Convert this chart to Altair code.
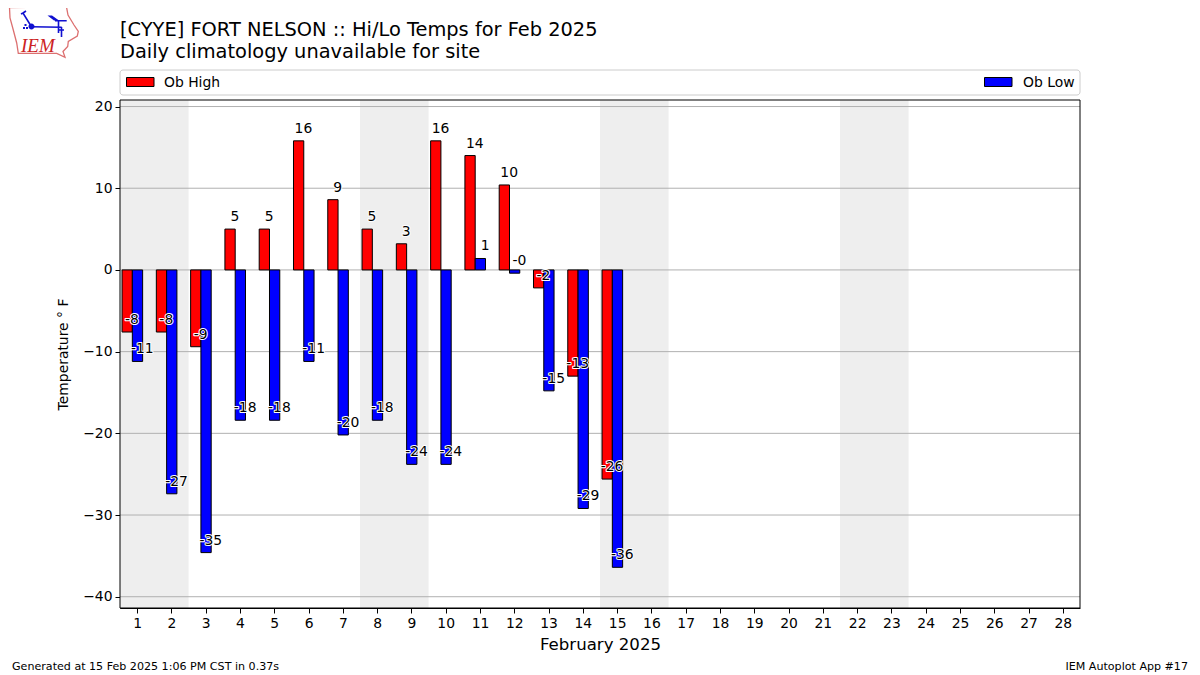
import altair as alt
import pandas as pd

FONT = "DejaVu Sans"

days = list(range(1, 29))
obs_days = list(range(1, 16))
ob_high = [-7.6, -7.6, -9.4, 5.0, 5.0, 15.8, 8.6, 5.0, 3.2, 15.8, 14.0, 10.4, -2.2, -13.0, -25.6]
ob_low = [-11.2, -27.4, -34.6, -18.4, -18.4, -11.2, -20.2, -18.4, -23.8, -23.8, 1.4, -0.4, -14.8, -29.2, -36.4]
weekend_start = [0.5, 7.5, 14.5, 21.5]
weekend_end = [2.5, 9.5, 16.5, 23.5]
y_ticks = [-40, -30, -20, -10, 0, 10, 20]

title_1 = "[CYYE] FORT NELSON :: Hi/Lo Temps for Feb 2025"
title_2 = "Daily climatology unavailable for site"
footer_left = "Generated at 15 Feb 2025 1:06 PM CST in 0.37s"
footer_right = "IEM Autoplot App #17"

# Iowa-shaped logo outlines, as SVG paths in page pixels
logo_outline = "M9.5,7.5 L66.5,7 L68,15 L74,25 L78.3,31.5 L77.3,36 L68.3,41.5 L67.7,46.5 L63,51.5 L65,57.3 L56.7,53.3 L18.3,53.3 L16.7,43 L13.3,30 L10,18 Z"
logo_barb = "M31.5,26.7 L61.7,27.3 M31,26 L23,13 L21,14 M23,13 L26,11 M55,20.7 L66.7,20.7 M58.5,20.7 L58.5,33 M61.5,27 L61.5,37 M58.5,30 L64,30"
logo_fill = "M47.5,15.5 L52,15.5 L59,20.5 L54,20.5 Z M28.5,26.5 A3,3 0 1 0 34.5,26.5 A3,3 0 1 0 28.5,26.5 Z M23,27 L25,27 L25,29 L23,29 Z M26,27 L28,27 L28,29 L26,29 Z M24.5,24 L26.5,24 L26.5,26 L24.5,26 Z"

bars = pd.DataFrame(
    [{"day": d, "left": d - 0.44, "right": d - 0.14, "value": v, "zero": 0, "series": "Ob High",
      "label_x": d - 0.15, "label": f"{v:.0f}"} for d, v in zip(obs_days, ob_high)]
    + [{"day": d, "left": d - 0.14, "right": d + 0.16, "value": v, "zero": 0, "series": "Ob Low",
        "label_x": d + 0.15, "label": f"{v:.0f}"} for d, v in zip(obs_days, ob_low)]
)
spans = pd.DataFrame({"start": weekend_start, "end": weekend_end})
grid = pd.DataFrame({"tick": y_ticks})

x_scale = alt.Scale(domain=[0.5, 28.5], nice=False, zero=False)
y_scale = alt.Scale(domain=[-41.38, 20.8], nice=False, zero=False)

axis_common = dict(
    labelFont=FONT, labelFontSize=13.9, labelColor="black",
    titleFont=FONT, titleColor="black", titleFontWeight="normal",
    tickColor="black", tickSize=5, tickWidth=1, domainColor="black", domainWidth=1,
    grid=False, labelPadding=3, labelOverlap=False, labelFlush=False, labelBound=False,
)
x_axis = alt.Axis(values=days, format="d", title="February 2025",
                  titleFontSize=16.6, titlePadding=7, **axis_common)
y_axis = alt.Axis(values=y_ticks, format="d", title="Temperature ° F",
                  titleFontSize=13.9, titlePadding=12, **axis_common)

span_layer = alt.Chart(spans).mark_rect(color="#eeeeee").encode(
    x=alt.X("start:Q", scale=x_scale, axis=x_axis),
    x2="end:Q",
)
grid_layer = alt.Chart(grid).mark_rule(color="#b0b0b0", strokeWidth=1).encode(
    y=alt.Y("tick:Q", scale=y_scale, axis=y_axis),
)
bar_layer = alt.Chart(bars).mark_bar(stroke="black", strokeWidth=1).encode(
    x=alt.X("left:Q", scale=x_scale, axis=x_axis),
    x2="right:Q",
    y=alt.Y("value:Q", scale=y_scale, axis=y_axis),
    y2="zero:Q",
    fill=alt.Fill("series:N", scale=alt.Scale(domain=["Ob High", "Ob Low"], range=["#ff0000", "#0000ff"]), legend=None),
)
label_enc = dict(
    x=alt.X("label_x:Q", scale=x_scale, axis=x_axis),
    y=alt.Y("value:Q", scale=y_scale, axis=y_axis),
    text="label:N",
)
halo_layer = alt.Chart(bars).mark_text(
    font=FONT, fontSize=13.9, dy=-12, stroke="white", strokeWidth=2, strokeJoin="round", fill="white"
).encode(**label_enc)
label_layer = alt.Chart(bars).mark_text(
    font=FONT, fontSize=13.9, dy=-12, color="black"
).encode(**label_enc)

frame = alt.Chart(pd.DataFrame({"a": [0]})).mark_rect(fill=None, stroke="black", strokeWidth=1).encode(
    x=alt.value(0), x2=alt.value(960), y=alt.value(0), y2=alt.value(508),
)


def page_text(text, x, y, size, align="left", color="black", font=FONT, style="normal"):
    return alt.Chart(pd.DataFrame({"t": [text]})).mark_text(
        align=align, baseline="alphabetic", font=font, fontSize=size, color=color, fontStyle=style,
    ).encode(x=alt.value(x - 120), y=alt.value(y - 100), text="t:N")


def swatch(x0, x1, color):
    return alt.Chart(pd.DataFrame({"a": [0]})).mark_rect(fill=color, stroke="black", strokeWidth=1).encode(
        x=alt.value(x0 - 120), x2=alt.value(x1 - 120), y=alt.value(-22.5), y2=alt.value(-13.5),
    )


legend_box = alt.Chart(pd.DataFrame({"a": [0]})).mark_rect(
    fill="white", stroke="#cccccc", strokeWidth=1, cornerRadius=3
).encode(x=alt.value(0), x2=alt.value(960), y=alt.value(-30), y2=alt.value(-5))


def logo(path, **kw):
    return alt.Chart(pd.DataFrame({"a": [0]})).mark_point(shape=path, size=4, opacity=1, **kw).encode(
        x=alt.value(-120), y=alt.value(-100)
    )


chart = alt.layer(
    span_layer, grid_layer, bar_layer, halo_layer, label_layer, frame,
    legend_box,
    swatch(126.5, 154, "#ff0000"),
    page_text("Ob High", 164, 86.5, 13.9),
    swatch(984.5, 1012, "#0000ff"),
    page_text("Ob Low", 1023, 86.5, 13.9),
    page_text(title_1, 120, 35.5, 19.4),
    page_text(title_2, 120, 57.5, 19.4),
    page_text(footer_left, 12, 670, 11.1),
    page_text(footer_right, 1188, 670, 11.1, align="right"),
    logo(logo_outline, filled=False, stroke="#dc7070", strokeWidth=1.3),
    logo(logo_barb, filled=False, stroke="#1010d0", strokeWidth=1.6),
    logo(logo_fill, filled=True, fill="#1010d0", strokeWidth=0),
    page_text("IEM", 21, 51.5, 19, color="#cc2222", font="Liberation Serif", style="italic"),
).properties(
    width=960, height=508,
    padding={"left": 112, "top": 92, "right": 112, "bottom": 67},
    autosize=alt.AutoSizeParams(type="none"),
    background="white",
).configure_view(stroke=None)

chart.save("out.html", embed_options={"renderer": "svg", "actions": False})
